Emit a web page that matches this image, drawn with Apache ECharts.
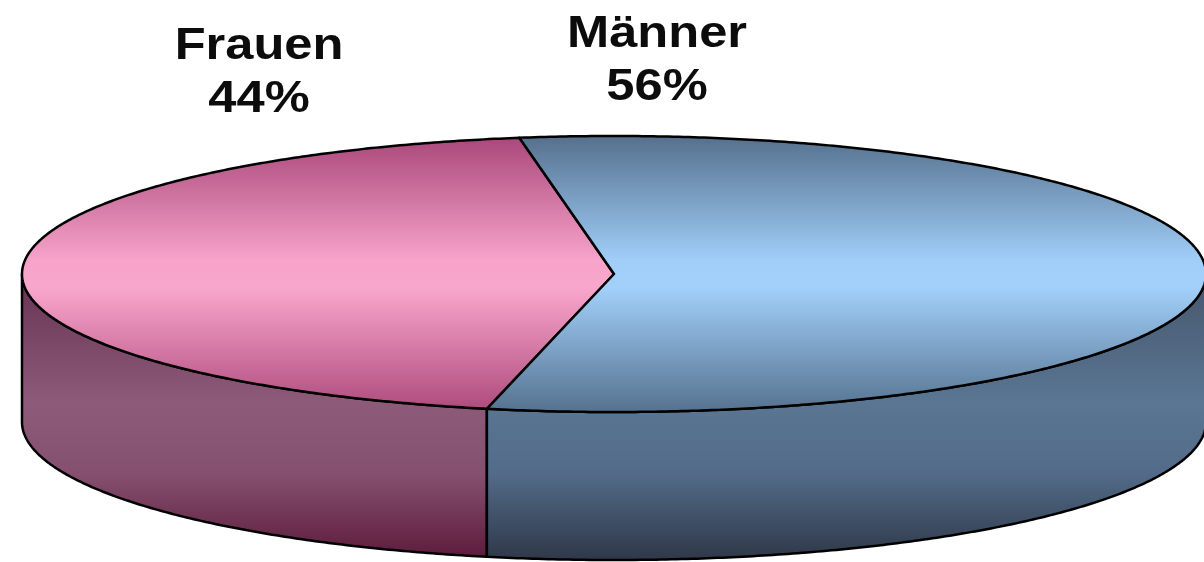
<!DOCTYPE html>
<html>
<head>
<meta charset="utf-8">
<script src="https://cdn.jsdelivr.net/npm/echarts@6/dist/echarts.min.js"></script>
<style>
html,body{margin:0;padding:0;background:#fff;}
#chart{width:1204px;height:562px;}
</style>
</head>
<body>
<div id="chart"></div>
<script>
// ---- data ----
const categories = ['Frauen', 'Männer'];
const values = [44, 56];

// ---- style / layout (not data) ----
const topStops = [
  [[0, '#a9477a'], [0.45, '#f7a3ca'], [0.55, '#f9a6cc'], [1, '#ad4a7c']],
  [[0, '#55708d'], [0.45, '#a0cef8'], [0.55, '#a2d0fa'], [1, '#55728f']]
];
const sideStops = [
  [[0, '#663352'], [0.45, '#8d5b79'], [0.7, '#85506f'], [1, '#5c1a3b']],
  [[0, '#46566c'], [0.45, '#5a7693'], [0.7, '#526b88'], [1, '#2e3848']]
];
const layout = { cx: 614, cy: 274, rx: 592, ry: 138, depth: 148, startAngle: 99.2 };
const labelAnchors = [[259, 73], [657, 61]];

const total = values.reduce((a, b) => a + b, 0);

function pt(a, dy) {
  const r = a * Math.PI / 180;
  return [layout.cx + layout.rx * Math.cos(r), layout.cy - layout.ry * Math.sin(r) + (dy || 0)];
}
function arc(a1, a2, dy) {
  const pts = [];
  const n = Math.max(2, Math.ceil(Math.abs(a2 - a1) / 0.5));
  for (let i = 0; i <= n; i++) pts.push(pt(a1 + (a2 - a1) * i / n, dy));
  return pts;
}
function grad(stops, y0, y1) {
  return {
    type: 'linear', x: 0, y: y0, x2: 0, y2: y1, global: true,
    colorStops: stops.map(s => ({ offset: s[0], color: s[1] }))
  };
}

function renderItem(params, api) {
  const idx = params.dataIndex;
  let before = 0;
  for (let i = 0; i < idx; i++) before += values[i];
  const v = api.value(1);
  const a1 = layout.startAngle + before / total * 360;
  const a2 = a1 + v / total * 360;
  const children = [];
  const stroke = { stroke: '#000', lineWidth: 2.5, lineJoin: 'round' };

  // visible front side walls (angles in [180,360] + k*360)
  for (let k = -1; k <= 1; k++) {
    const s = Math.max(a1, 180 + 360 * k);
    const e = Math.min(a2, 360 + 360 * k);
    if (e > s) {
      const pts = arc(s, e, 0).concat(arc(e, s, layout.depth));
      children.push({
        type: 'polygon',
        shape: { points: pts },
        style: Object.assign({ fill: grad(sideStops[idx], layout.cy, layout.cy + layout.ry + layout.depth) }, stroke)
      });
    }
  }
  // top face
  const topPts = [[layout.cx, layout.cy]].concat(arc(a1, a2, 0));
  children.push({
    type: 'polygon',
    shape: { points: topPts },
    style: Object.assign({ fill: grad(topStops[idx], layout.cy - layout.ry, layout.cy + layout.ry) }, stroke)
  });
  // label
  children.push({
    type: 'text',
    x: labelAnchors[idx][0], y: labelAnchors[idx][1],
    scaleX: 1.15,
    style: {
      text: categories[idx] + '\n' + v + '%',
      x: 0, y: 0,
      align: 'center', verticalAlign: 'middle',
      font: 'bold 44px "Liberation Sans", Arial, sans-serif',
      lineHeight: 53, fill: '#0c0c0c'
    }
  });
  return { type: 'group', children: children };
}

const chart = echarts.init(document.getElementById('chart'), null, { renderer: 'canvas' });
chart.setOption({
  animation: false,
  series: [{
    type: 'custom',
    coordinateSystem: 'none',
    renderItem: renderItem,
    data: categories.map((c, i) => ({ name: c, value: [i, values[i]] }))
  }]
});
</script>
</body>
</html>
